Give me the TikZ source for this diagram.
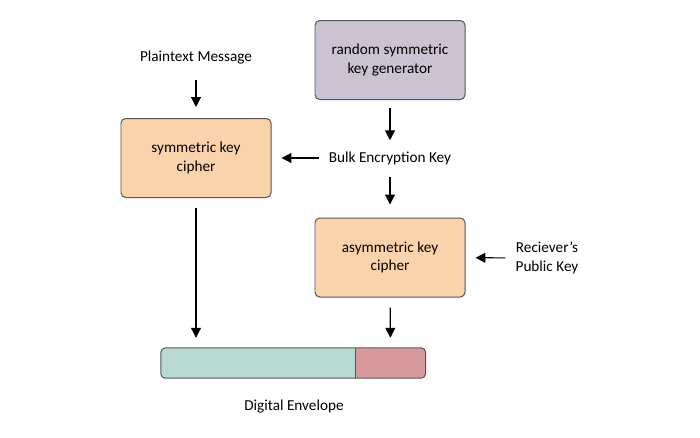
\documentclass[tikz,border=0pt]{standalone}
\usepackage{fontspec}
\setmainfont{Carlito}
\usetikzlibrary{arrows.meta, positioning}
\definecolor{genfill}{HTML}{CCC3D2}
\definecolor{cipherfill}{HTML}{FAD3AB}
\definecolor{bodyfill}{HTML}{B8D8D2}
\definecolor{keyfill}{HTML}{D8999D}
\definecolor{boxline}{HTML}{555555}
\tikzstyle{box} = [rectangle, draw=boxline, line width=0.85pt, rounded corners=4pt, minimum width=4.5cm, minimum height=2.37cm, align=center, inner sep=2pt]
\tikzstyle{txt} = [inner sep=0pt, align=center]
\tikzstyle{envpart} = [rectangle, inner sep=0pt, minimum height=0.9cm]
\tikzstyle{line} = [draw, line width=1pt, -{Triangle[length=8.5pt, width=8.5pt]}, shorten <=0.3cm, shorten >=0.3cm]

\begin{document}
\begin{tikzpicture}[x=0.03cm, y=-0.03cm, font=\fontsize{13}{16}\selectfont]
	\useasboundingbox (0,0) rectangle (700,437);

	\node [box, fill=genfill] (gen) at (390,60) {random symmetric\\key generator};
	\node [box, fill=cipherfill] (sym) at (196,158) {symmetric key\\cipher};
	\node [box, fill=cipherfill] (asym) at (390,257.5) {asymmetric key\\cipher};

	\node [txt] (plain) at (196,58) {Plaintext Message};
	\node [txt] (bulk) at (390,158) {Bulk Encryption Key};
	\node [txt] (recv) at (547,258) {Reciever's\\Public Key};

	% the envelope bar
	\node [envpart, minimum width=5.82cm] (envbody) at (258,363) {};
	\node [envpart, minimum width=2.1cm, right=0pt of envbody] (envkey) {};
	\begin{scope}
		\clip [rounded corners=4pt] (envbody.north west) rectangle (envkey.south east);
		\fill [bodyfill] (envbody.north west) rectangle (envbody.south east);
		\fill [keyfill] (envkey.north west) rectangle (envkey.south east);
	\end{scope}
	\draw [boxline, line width=0.85pt, rounded corners=4pt] (envbody.north west) rectangle (envkey.south east);
	\draw [boxline, line width=0.85pt] (envbody.north east) -- (envbody.south east);
	\node [txt] (envlabel) at (294,407) {Digital Envelope};

	\path [line, shorten <=0.45cm, shorten >=0.33cm] (plain) -- (sym);
	\path [line, shorten <=0.24cm, shorten >=0.33cm] (gen) -- (bulk);
	\path [line] (bulk) -- (sym);
	\path [line, shorten <=0.36cm, shorten >=0.39cm] (bulk) -- (asym);
	\path [line] (recv) -- (asym);
	\path [line] (sym) -- (sym.south |- envbody.north);
	\path [line] (asym) -- (envkey);
\end{tikzpicture}
\end{document}
